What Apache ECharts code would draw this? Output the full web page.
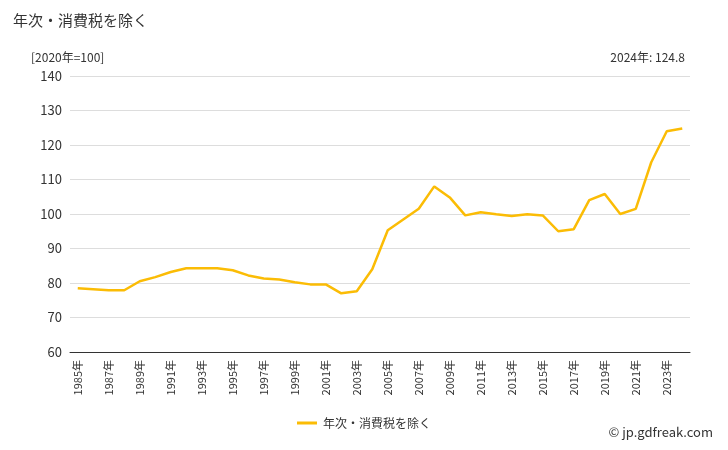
<!DOCTYPE html>
<html><head><meta charset="utf-8">
<script src="https://cdn.jsdelivr.net/npm/echarts@6/dist/echarts.min.js"></script>
<style>body{margin:0}#c{width:728px;height:450px}</style></head>
<body><div id="c"></div>
<script>
const years = [];
for (let y = 1985; y <= 2024; y++) years.push(y + '年');
const values = [78.5,78.2,77.9,77.9,80.5,81.7,83.2,84.3,84.3,84.3,83.7,82.2,81.3,81.0,80.2,79.6,79.6,77.0,77.6,84.0,95.3,98.4,101.5,108.0,104.8,99.6,100.5,99.9,99.4,99.9,99.6,95.0,95.6,104.0,105.8,100.0,101.5,115.0,124.0,124.8];
const seriesName = '年次・消費税を除く';
const chart = echarts.init(document.getElementById('c'));
const F = 'Noto Sans CJK JP';
chart.setOption({
  textStyle:{fontFamily:F},
  title:[
    {text:'年次・消費税を除く',left:8,top:8,textStyle:{fontSize:15,fontWeight:'normal',color:'#333',fontFamily:F}},
    {text:'[2020年=100]',left:26,top:46,textStyle:{fontSize:12,fontWeight:'normal',color:'#333',fontFamily:F}},
    {text:'2024年: 124.8',right:38,top:46,textStyle:{fontSize:12,fontWeight:'normal',color:'#333',fontFamily:F}},
    {text:'© jp.gdfreak.com',right:10,bottom:6,textStyle:{fontSize:13,fontWeight:'normal',color:'#333',fontFamily:F}}
  ],
  legend:{bottom:16,left:'center',data:[seriesName],icon:'path://M0,0H20V3H0Z',itemWidth:22,itemHeight:3,textStyle:{fontSize:12,color:'#333'}},
  grid:{left:70,right:38,top:76,bottom:98},
  xAxis:{type:'category',data:years,boundaryGap:true,
    axisLine:{lineStyle:{color:'#333'}},axisTick:{alignWithLabel:true,interval:0},
    axisLabel:{rotate:90,interval:1,fontSize:11,color:'#333'}},
  yAxis:{type:'value',min:60,max:140,interval:10,
    axisLine:{show:false},axisTick:{show:false},
    axisLabel:{fontSize:13,color:'#333'},splitLine:{lineStyle:{color:'#ddd'}}},
  series:[{name:seriesName,type:'line',data:values,symbol:'none',lineStyle:{color:'#FBBC05',width:2.5},itemStyle:{color:'#FBBC05'}}]
});
</script></body></html>
